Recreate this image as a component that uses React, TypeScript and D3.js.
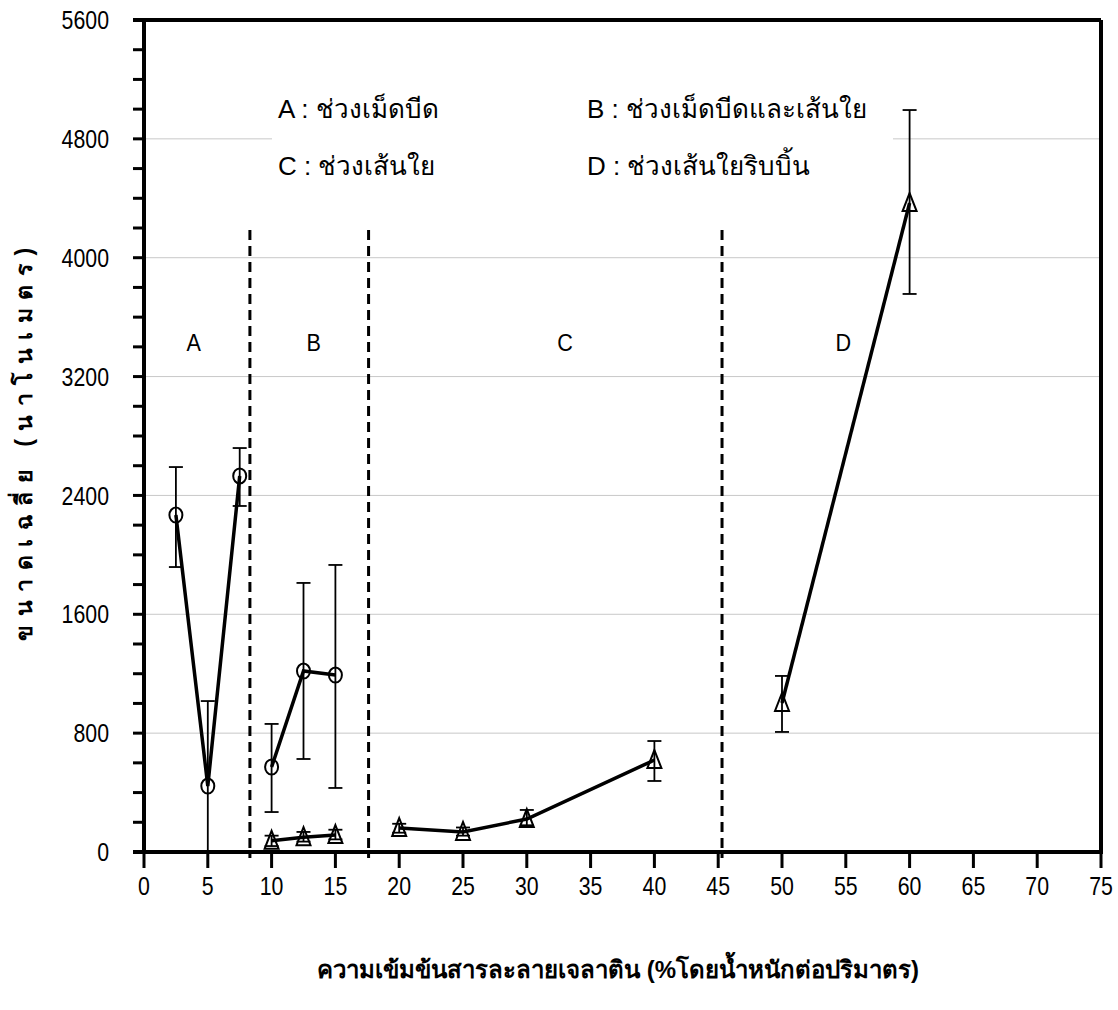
import React from "react";
import { scaleLinear, line, range } from "d3";

// x values are % w/v gelatin, y values are mean size in nm
const circleX = [2.5, 5, 7.5, 10, 12.5, 15];
const circleY = [2268, 444, 2531, 572, 1218, 1191];
const circleHi = [2591, 1016, 2719, 862, 1811, 1932];
const circleLo = [1918, 0, 2329, 269, 626, 431];
const circleGroups = [[0, 1, 2], [3, 4, 5]];

const triX = [10, 12.5, 15, 20, 25, 30, 40, 50, 60];
const triY = [75, 100, 114, 161, 135, 222, 619, 1003, 4368];
const triHi = [110, 135, 150, 190, 165, 283, 747, 1185, 4994];
const triLo = [40, 70, 85, 130, 110, 180, 478, 808, 3756];
const triGroups = [[0, 1, 2], [3, 4, 5, 6], [7, 8]];

const boundaries = [8.3, 17.6, 45.3];
const regionNames = ["A", "B", "C", "D"];
const regionX = [3.9, 13.3, 33.0, 54.8];
const regionY = 3430;

const legendRows = [
  ["A : ช่วงเม็ดบีด", "B : ช่วงเม็ดบีดและเส้นใย"],
  ["C : ช่วงเส้นใย", "D : ช่วงเส้นใยริบบิ้น"],
];

const xTicks = range(0, 76, 5);
const yTicks = range(0, 5601, 800);
const yMinor = range(0, 5601, 200);

const xTitle = "ความเข้มข้นสารละลายเจลาติน (%โดยน้ำหนักต่อปริมาตร)";
const yTitle = "ขนาดเฉลี่ย (นาโนเมตร)";

const W = 1118;
const H = 1010;
const font = "'Liberation Sans', Arial, sans-serif";

export default function App() {
  const x = scaleLinear().domain([0, 75]).range([144, 1101]);
  const y = scaleLinear().domain([0, 5600]).range([852, 20]);
  const left = x(0);
  const right = x(75);
  const top = y(5600);
  const bottom = y(0);

  const seg = (xs: number[], ys: number[], idx: number[]) =>
    line<number>()
      .x(i => x(xs[i]))
      .y(i => y(ys[i]))(idx) || "";

  const errBar = (xv: number, lo: number, hi: number, k: string) => {
    const cx = x(xv);
    return (
      <g key={k} stroke="#000" strokeWidth={1.8}>
        <line x1={cx} x2={cx} y1={y(hi)} y2={y(lo)} />
        <line x1={cx - 7} x2={cx + 7} y1={y(hi)} y2={y(hi)} />
        {lo > 0 && <line x1={cx - 7} x2={cx + 7} y1={y(lo)} y2={y(lo)} />}
      </g>
    );
  };

  // narrow-looking text: squeeze horizontally around the anchor point
  const narrowText = (
    tx: number,
    ty: number,
    txt: string | number,
    anchor: string,
    size: number,
    k: string,
    sx = 0.82
  ) => (
    <text
      key={k}
      transform={`translate(${tx},${ty}) scale(${sx},1)`}
      dy="0.35em"
      textAnchor={anchor}
      fontFamily={font}
      fontSize={size}
    >
      {txt}
    </text>
  );

  return (
    <svg width={W} height={H} style={{ position: "absolute", left: 0, top: 0 }}>
      <rect width={W} height={H} fill="#fff" />

      {/* gridlines */}
      {yTicks.slice(1, -1).map(t => (
        <line key={t} x1={left} x2={right} y1={y(t)} y2={y(t)} stroke="#c8c8c8" strokeWidth={1} />
      ))}

      {/* legend box covers the grid */}
      <rect x={272} y={72} width={621} height={128} fill="#fff" />
      {legendRows.map((row, r) =>
        row.map((txt, c) => (
          <text
            key={r + "-" + c}
            x={c === 0 ? 278 : 587}
            y={109 + r * 57}
            dy="0.35em"
            fontFamily={font}
            fontSize={26}
          >
            {txt}
          </text>
        ))
      )}

      {/* region dividers */}
      {boundaries.map(b => (
        <line
          key={b}
          x1={x(b)}
          x2={x(b)}
          y1={230}
          y2={858}
          stroke="#000"
          strokeWidth={3}
          strokeDasharray="10,6"
        />
      ))}
      {regionNames.map((n, i) =>
        narrowText(x(regionX[i]), y(regionY), n, "middle", 24, "r" + n, 0.9)
      )}

      {/* error bars */}
      {circleX.map((v, i) => errBar(v, circleLo[i], circleHi[i], "ce" + i))}
      {triX.map((v, i) => errBar(v, triLo[i], triHi[i], "te" + i))}

      {/* lines */}
      {circleGroups.map((g, i) => (
        <path key={"cl" + i} d={seg(circleX, circleY, g)} fill="none" stroke="#000" strokeWidth={3.5} />
      ))}
      {triGroups.map((g, i) => (
        <path key={"tl" + i} d={seg(triX, triY, g)} fill="none" stroke="#000" strokeWidth={3.5} />
      ))}

      {/* markers */}
      {circleX.map((v, i) => (
        <ellipse
          key={"c" + i}
          cx={x(v)}
          cy={y(circleY[i])}
          rx={6.5}
          ry={7.5}
          fill="none"
          stroke="#000"
          strokeWidth={2}
        />
      ))}
      {triX.map((v, i) => {
        const cx = x(v);
        const cy = y(triY[i]);
        return (
          <path
            key={"t" + i}
            d={`M${cx},${cy - 10}L${cx + 7},${cy + 8}L${cx - 7},${cy + 8}Z`}
            fill="none"
            stroke="#000"
            strokeWidth={2}
          />
        );
      })}

      {/* frame and axes */}
      <line x1={left - 11} x2={right} y1={top} y2={top} stroke="#000" strokeWidth={4} />
      <line x1={right} x2={right} y1={top} y2={bottom} stroke="#000" strokeWidth={4} />
      <line x1={left} x2={left} y1={top} y2={bottom + 2} stroke="#000" strokeWidth={4} />
      <line x1={left - 11} x2={right + 2} y1={bottom} y2={bottom} stroke="#000" strokeWidth={4} />

      {yMinor.map(t => (
        <line key={"ym" + t} x1={left - 11} x2={left} y1={y(t)} y2={y(t)} stroke="#000" strokeWidth={3} />
      ))}
      {yTicks.map(t => narrowText(109, y(t), t, "end", 26, "yl" + t))}

      {xTicks.map(t => (
        <line key={"xt" + t} x1={x(t)} x2={x(t)} y1={bottom} y2={bottom + 16} stroke="#000" strokeWidth={3} />
      ))}
      {xTicks.map(t => narrowText(x(t), 886, t, "middle", 26, "xl" + t))}

      <text
        x={618}
        y={970}
        dy="0.35em"
        textAnchor="middle"
        fontFamily={font}
        fontWeight="bold"
        fontSize={24}
      >
        {xTitle}
      </text>
      <text
        transform="translate(24,440) rotate(-90)"
        dy="0.35em"
        textAnchor="middle"
        fontFamily={font}
        fontWeight="bold"
        fontSize={23}
        letterSpacing={8.5}
      >
        {yTitle}
      </text>
    </svg>
  );
}
